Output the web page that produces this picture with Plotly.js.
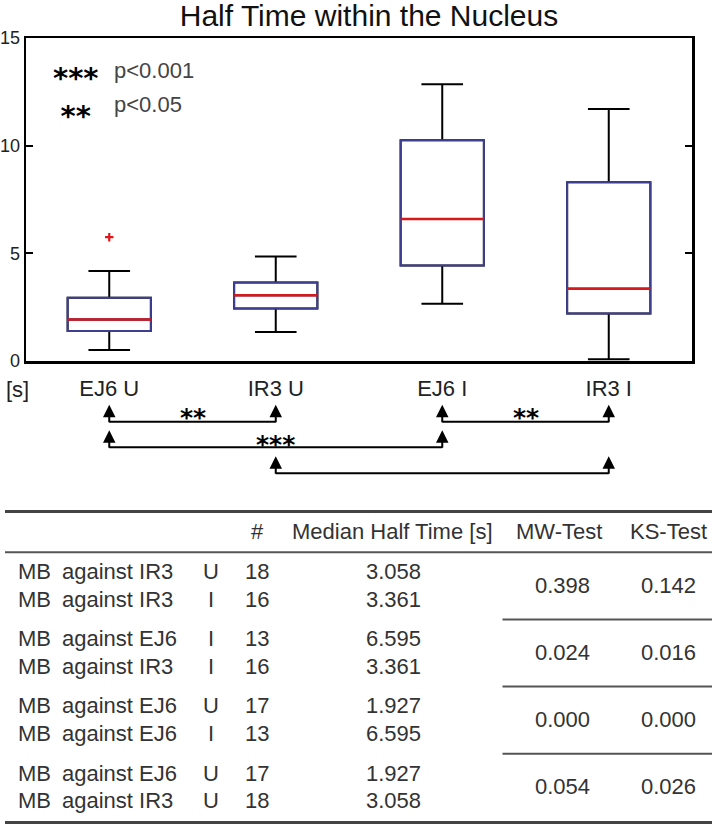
<!DOCTYPE html>
<html>
<head>
<meta charset="utf-8">
<script src="https://cdn.plot.ly/plotly-3.0.1.min.js"></script>
<style>html,body{margin:0;padding:0;background:#fff;}#chart{width:717px;height:827px;}</style>
</head>
<body>
<div id="chart"></div>
<script>
// ---- data ----
const categories = ['EJ6 U', 'IR3 U', 'EJ6 I', 'IR3 I'];
const lowerWhisker = [0.51, 1.35, 2.66, 0.08];
const q1 = [1.39, 2.44, 4.43, 2.21];
const medians = [1.927, 3.058, 6.595, 3.361];
const q3 = [2.94, 3.64, 10.25, 8.30];
const upperWhisker = [4.18, 4.85, 12.85, 11.70];
const outlierCat = [0];
const outlierVal = [5.75];

const compFrom = [0, 2, 0, 1];
const compTo = [1, 3, 2, 3];
const compLabel = ['**', '**', '***', ''];
const compLevel = [0, 0, 1, 2];

const legendStars = ['***', '**'];
const legendText = ['p<0.001', 'p<0.05'];

const tableHeader = ['#', 'Median Half Time [s]', 'MW-Test', 'KS-Test'];
const rowStrain = ['IR3', 'IR3', 'EJ6', 'IR3', 'EJ6', 'EJ6', 'EJ6', 'IR3'];
const rowCond = ['U', 'I', 'I', 'I', 'U', 'I', 'U', 'U'];
const rowCount = ['18', '16', '13', '16', '17', '13', '17', '18'];
const rowMedian = ['3.058', '3.361', '6.595', '3.361', '1.927', '6.595', '1.927', '3.058'];
const mwTest = ['0.398', '0.024', '0.000', '0.054'];
const ksTest = ['0.142', '0.016', '0.000', '0.026'];

// ---- layout helpers (pixel -> paper) ----
const W = 717, H = 827, L = 26, R = 25, T = 38, B = 466;
const pw = W - L - R, ph = H - T - B;
const px = v => (v - L) / pw;
const py = v => (H - B - v) / ph;

const FONT = 'Liberation Sans, Arial, Helvetica, sans-serif';
const STAR = 'DejaVu Sans, Liberation Sans, sans-serif';
const pos = categories.map((c, i) => i);
const boxW = 0.5;

const traces = [];
// whiskers (black)
traces.push({
  type: 'box', x: pos, q1: q1, median: medians, q3: q3,
  lowerfence: lowerWhisker, upperfence: upperWhisker,
  width: boxW, whiskerwidth: 0.5, boxpoints: false,
  line: {color: '#000000', width: 2}, fillcolor: '#ffffff',
  hoverinfo: 'skip', showlegend: false
});
// box (navy)
traces.push({
  type: 'box', x: pos, q1: q1, median: medians, q3: q3,
  lowerfence: q1, upperfence: q3,
  width: boxW, whiskerwidth: 0.5, boxpoints: false,
  line: {color: '#3f3f91', width: 2}, fillcolor: 'rgba(0,0,0,0)',
  hoverinfo: 'skip', showlegend: false
});
// medians (red)
const mx = [], my = [];
pos.forEach((p, i) => { mx.push(p - boxW / 2, p + boxW / 2, null); my.push(medians[i], medians[i], null); });
traces.push({type: 'scatter', mode: 'lines', x: mx, y: my, line: {color: '#d7191c', width: 2.5}, hoverinfo: 'skip', showlegend: false});
// outliers
traces.push({type: 'scatter', mode: 'markers', x: outlierCat, y: outlierVal,
  marker: {symbol: 'cross-thin', size: 6, line: {color: '#e0161b', width: 2.2}, color: '#e0161b'},
  hoverinfo: 'skip', showlegend: false});

const shapes = [];
const annotations = [];

// [s] unit label
annotations.push({xref: 'paper', yref: 'paper', x: px(17), y: py(389), text: '[s]', showarrow: false,
  font: {family: FONT, size: 22, color: '#222'}, xanchor: 'center', yanchor: 'middle'});

// legend: stars as one two-line text, p-values as separate texts
annotations.push({xref: 'paper', yref: 'paper', x: px(76), y: py(91.5), text: legendStars.join('<br>'), showarrow: false,
  font: {family: STAR, size: 29, color: '#000', weight: 700}, align: 'center', xanchor: 'center', yanchor: 'middle', yshift: -5});
const legTY = [70, 104];
legendText.forEach((t, i) => {
  annotations.push({xref: 'paper', yref: 'paper', x: px(112), y: py(legTY[i]), text: t, showarrow: false,
    font: {family: FONT, size: 22, color: '#444'}, xanchor: 'left', yanchor: 'middle'});
});

// comparison brackets
const levelY = [421.7, 447.3, 473.3];
const tipGap = 17;
const labelY = [411.5, 438, 464];
compFrom.forEach((a, i) => {
  const b = compTo[i];
  const yl = levelY[compLevel[i]];
  shapes.push({type: 'line', xref: 'x', yref: 'paper', x0: a, x1: b, y0: py(yl), y1: py(yl), line: {color: '#000', width: 2}});
  [a, b].forEach(c => {
    annotations.push({xref: 'x', yref: 'paper', x: c, y: py(yl - tipGap), text: '', showarrow: true,
      arrowhead: 2, arrowsize: 1.25, arrowwidth: 2, arrowcolor: '#000', ax: 0, ay: tipGap + 1, standoff: 0, borderpad: 0});
  });
  if (compLabel[i]) {
    annotations.push({xref: 'x', yref: 'paper', x: (a + b) / 2, y: py(labelY[compLevel[i]]), text: compLabel[i], showarrow: false,
      font: {family: STAR, size: 25, color: '#000', weight: 700}, xanchor: 'center', yanchor: 'middle', yshift: -6});
  }
});

// table lines
const tblL = 5, tblR = 712;
shapes.push({type: 'line', xref: 'paper', yref: 'paper', x0: px(tblL), x1: px(tblR), y0: py(511.5), y1: py(511.5), line: {color: '#444', width: 3}});
shapes.push({type: 'line', xref: 'paper', yref: 'paper', x0: px(tblL), x1: px(tblR), y0: py(552.3), y1: py(552.3), line: {color: '#555', width: 2}});
shapes.push({type: 'line', xref: 'paper', yref: 'paper', x0: px(tblL), x1: px(tblR), y0: py(822.5), y1: py(822.5), line: {color: '#444', width: 3}});

// header
const hdrX = [257, 392, 559, 668];
const tfont = {family: FONT, size: 22, color: '#333'};
tableHeader.forEach((h, i) => {
  annotations.push({xref: 'paper', yref: 'paper', x: px(hdrX[i]), y: py(531.7), text: h, showarrow: false,
    font: tfont, xanchor: 'center', yanchor: 'middle'});
});

// rows
const grpTop = 571.7, grpPitch = 67.1, rowPitch = 27.5;
rowStrain.forEach((s, r) => {
  const g = Math.floor(r / 2), k = r % 2;
  const yy = py(grpTop + g * grpPitch + k * rowPitch);
  annotations.push({xref: 'paper', yref: 'paper', x: px(16), y: yy, text: 'MB', showarrow: false, font: tfont, xanchor: 'left', yanchor: 'middle'});
  annotations.push({xref: 'paper', yref: 'paper', x: px(60), y: yy, text: 'against ' + s, showarrow: false, font: tfont, xanchor: 'left', yanchor: 'middle'});
  annotations.push({xref: 'paper', yref: 'paper', x: px(210.5), y: yy, text: rowCond[r], showarrow: false, font: tfont, xanchor: 'center', yanchor: 'middle'});
  annotations.push({xref: 'paper', yref: 'paper', x: px(257), y: yy, text: rowCount[r], showarrow: false, font: tfont, xanchor: 'center', yanchor: 'middle'});
  annotations.push({xref: 'paper', yref: 'paper', x: px(393.5), y: yy, text: rowMedian[r], showarrow: false, font: tfont, xanchor: 'center', yanchor: 'middle'});
});
mwTest.forEach((m, g) => {
  const yy = py(grpTop + g * grpPitch + rowPitch / 2);
  annotations.push({xref: 'paper', yref: 'paper', x: px(562), y: yy, text: m, showarrow: false, font: tfont, xanchor: 'center', yanchor: 'middle'});
  annotations.push({xref: 'paper', yref: 'paper', x: px(668), y: yy, text: ksTest[g], showarrow: false, font: tfont, xanchor: 'center', yanchor: 'middle'});
  if (g < mwTest.length - 1) {
    const ly = grpTop + g * grpPitch + rowPitch + 20.3;
    shapes.push({type: 'line', xref: 'paper', yref: 'paper', x0: px(502.5), x1: px(tblR), y0: py(ly), y1: py(ly), line: {color: '#555', width: 2}});
  }
});

const layout = {
  width: W, height: H,
  margin: {l: L, r: R, t: T, b: B, pad: 0},
  paper_bgcolor: '#ffffff', plot_bgcolor: '#ffffff',
  showlegend: false,
  boxmode: 'overlay',
  font: {family: FONT, color: '#222'},
  title: {text: 'Half Time within the Nucleus', x: 369 / W, xanchor: 'center', xref: 'container',
    y: 1 - 15 / H, yanchor: 'middle', yref: 'container', font: {family: FONT, size: 30, color: '#111'}},
  xaxis: {
    range: [-0.5, 3.5], tickvals: pos, ticktext: categories, ticks: '',
    showgrid: false, zeroline: false, showline: true, mirror: true, linecolor: '#000', linewidth: 2.5,
    tickfont: {family: FONT, size: 22, color: '#222'}, ticklabelstandoff: 6, fixedrange: true
  },
  yaxis: {
    range: [0, 15], tickvals: [0, 5, 10, 15], ticks: 'inside', ticklen: 7, tickwidth: 2, tickcolor: '#000',
    showgrid: false, zeroline: false, showline: true, mirror: 'ticks', linecolor: '#000', linewidth: 2.5,
    tickfont: {family: FONT, size: 18, color: '#222'}, ticklabelstandoff: 0, fixedrange: true
  },
  shapes: shapes,
  annotations: annotations
};

Plotly.newPlot('chart', traces, layout, {staticPlot: true, displayModeBar: false});
</script>
</body>
</html>
